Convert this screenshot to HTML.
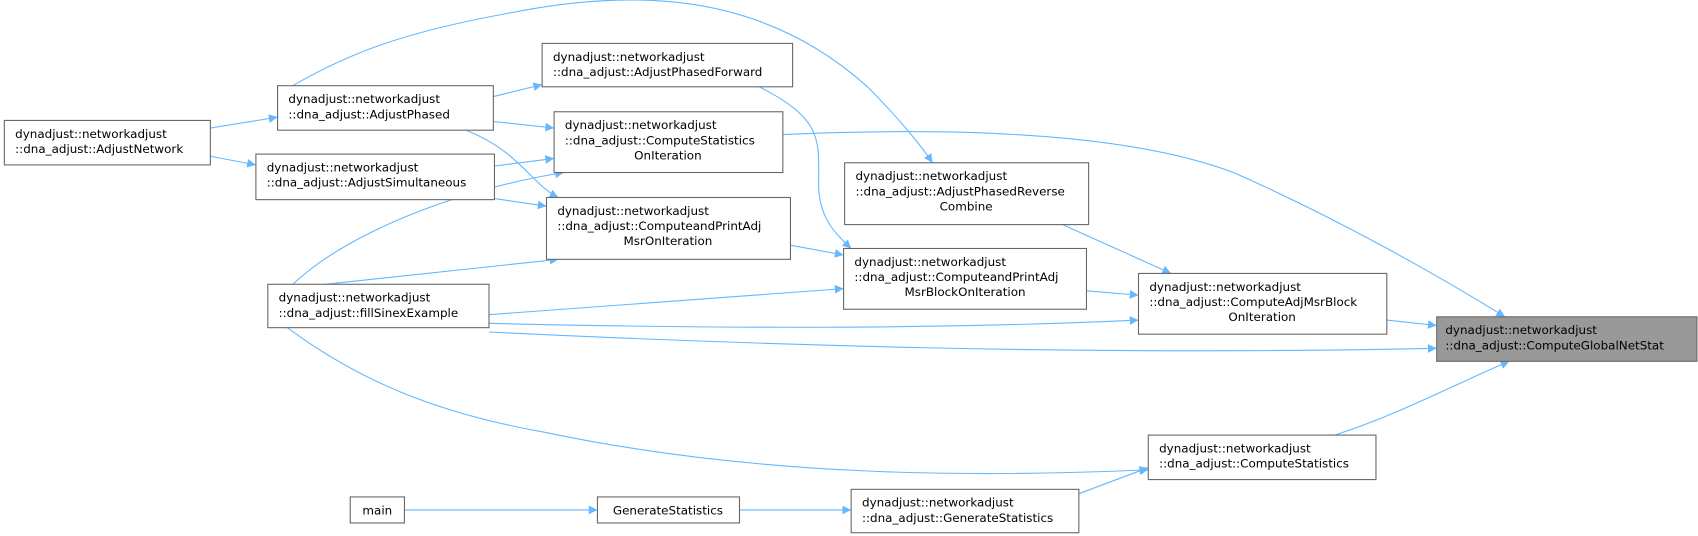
<!DOCTYPE html>
<html><head><meta charset="utf-8"><style>
html,body{margin:0;padding:0;background:#fff;}
svg{display:block}
text{font-family:"DejaVu Sans","Liberation Sans",sans-serif;font-size:11px;fill:#000}
.n{fill:#fff;stroke:#666;stroke-width:1}
.e{fill:none;stroke:#63b8ff;stroke-width:1}
</style></head><body>
<svg width="1698" height="536" viewBox="0 0 1566 494" preserveAspectRatio="none" xmlns="http://www.w3.org/2000/svg">
<defs><marker id="a" viewBox="0 0 10 10" refX="10" refY="5" markerWidth="10" markerHeight="8" markerUnits="userSpaceOnUse" orient="auto"><path d="M0,0L10,5L0,10z" fill="#63b8ff"/></marker></defs>
<g marker-end="url(#a)">
<path class="e" d="M1279,295 L1325,300"/>
<path class="e" d="M451,306 C700,318 1000,328 1325,321"/>
<path class="e" d="M722,124 C900,116 1050,125 1140,160 C1230,200 1320,250 1388,292"/>
<path class="e" d="M1231,401 C1290,382 1340,355 1392,333"/>
<path class="e" d="M980,207 L1080,252"/>
<path class="e" d="M1002,268 L1050,272"/>
<path class="e" d="M451,298 C700,304 900,302 1050,295"/>
<path class="e" d="M270,79 C320,50 370,30 470,12 C580,-10 700,-10 800,80 C830,110 850,135 860,150"/>
<path class="e" d="M729,226 L778,235"/>
<path class="e" d="M700,80 C760,110 755,130 755,170 C755,200 770,215 785,229"/>
<path class="e" d="M300,262 L515,239"/>
<path class="e" d="M451,290 L778,266"/>
<path class="e" d="M995,455 L1059,431"/>
<path class="e" d="M265,302 C330,350 400,380 500,398 C700,440 900,440 1059,433"/>
<path class="e" d="M682,470 L785,470"/>
<path class="e" d="M373,470 L551,470"/>
<path class="e" d="M455,89 L500,78"/>
<path class="e" d="M455,112 L511,118"/>
<path class="e" d="M456,153 L511,146"/>
<path class="e" d="M270,262 C320,215 420,175 520,159"/>
<path class="e" d="M430,120 C480,140 490,170 515,182"/>
<path class="e" d="M456,183 L504,190"/>
<path class="e" d="M194,118 L256,108"/>
<path class="e" d="M194,144 L236,152"/>
</g>
<rect class="n" x="1325" y="292" width="240" height="41" style="fill:#999"/>
<text x="1333" y="308">dynadjust::networkadjust</text><text x="1333" y="322">::dna_adjust::ComputeGlobalNetStat</text>

<rect class="n" x="1050" y="252" width="229" height="56"/>
<text x="1060" y="268">dynadjust::networkadjust</text><text x="1060" y="282">::dna_adjust::ComputeAdjMsrBlock</text><text x="1164" y="296" text-anchor="middle">OnIteration</text>

<rect class="n" x="1059" y="401" width="210" height="41"/>
<text x="1069" y="417">dynadjust::networkadjust</text><text x="1069" y="431">::dna_adjust::ComputeStatistics</text>

<rect class="n" x="779" y="150" width="225" height="57"/>
<text x="789" y="166">dynadjust::networkadjust</text><text x="789" y="180">::dna_adjust::AdjustPhasedReverse</text><text x="891" y="194" text-anchor="middle">Combine</text>

<rect class="n" x="778" y="229" width="224" height="56"/>
<text x="788" y="245">dynadjust::networkadjust</text><text x="788" y="259">::dna_adjust::ComputeandPrintAdj</text><text x="890" y="273" text-anchor="middle">MsrBlockOnIteration</text>

<rect class="n" x="785" y="451" width="210" height="40"/>
<text x="795" y="467">dynadjust::networkadjust</text><text x="795" y="481">::dna_adjust::GenerateStatistics</text>

<rect class="n" x="551" y="458" width="131" height="24"/>
<text x="616" y="474" text-anchor="middle">GenerateStatistics</text>

<rect class="n" x="323" y="458" width="50" height="24"/>
<text x="348" y="474" text-anchor="middle">main</text>

<rect class="n" x="500" y="40" width="231" height="40"/>
<text x="510" y="56">dynadjust::networkadjust</text><text x="510" y="70">::dna_adjust::AdjustPhasedForward</text>

<rect class="n" x="511" y="103" width="211" height="56"/>
<text x="521" y="119">dynadjust::networkadjust</text><text x="521" y="133">::dna_adjust::ComputeStatistics</text><text x="616" y="147" text-anchor="middle">OnIteration</text>

<rect class="n" x="504" y="182" width="225" height="57"/>
<text x="514" y="198">dynadjust::networkadjust</text><text x="514" y="212">::dna_adjust::ComputeandPrintAdj</text><text x="616" y="226" text-anchor="middle">MsrOnIteration</text>

<rect class="n" x="256" y="79" width="199" height="41"/>
<text x="266" y="95">dynadjust::networkadjust</text><text x="266" y="109">::dna_adjust::AdjustPhased</text>

<rect class="n" x="236" y="142" width="220" height="42"/>
<text x="246" y="158">dynadjust::networkadjust</text><text x="246" y="172">::dna_adjust::AdjustSimultaneous</text>

<rect class="n" x="247" y="262" width="204" height="40"/>
<text x="257" y="278">dynadjust::networkadjust</text><text x="257" y="292">::dna_adjust::fillSinexExample</text>

<rect class="n" x="4" y="111" width="190" height="41"/>
<text x="14" y="127">dynadjust::networkadjust</text><text x="14" y="141">::dna_adjust::AdjustNetwork</text>
</svg>
</body></html>
